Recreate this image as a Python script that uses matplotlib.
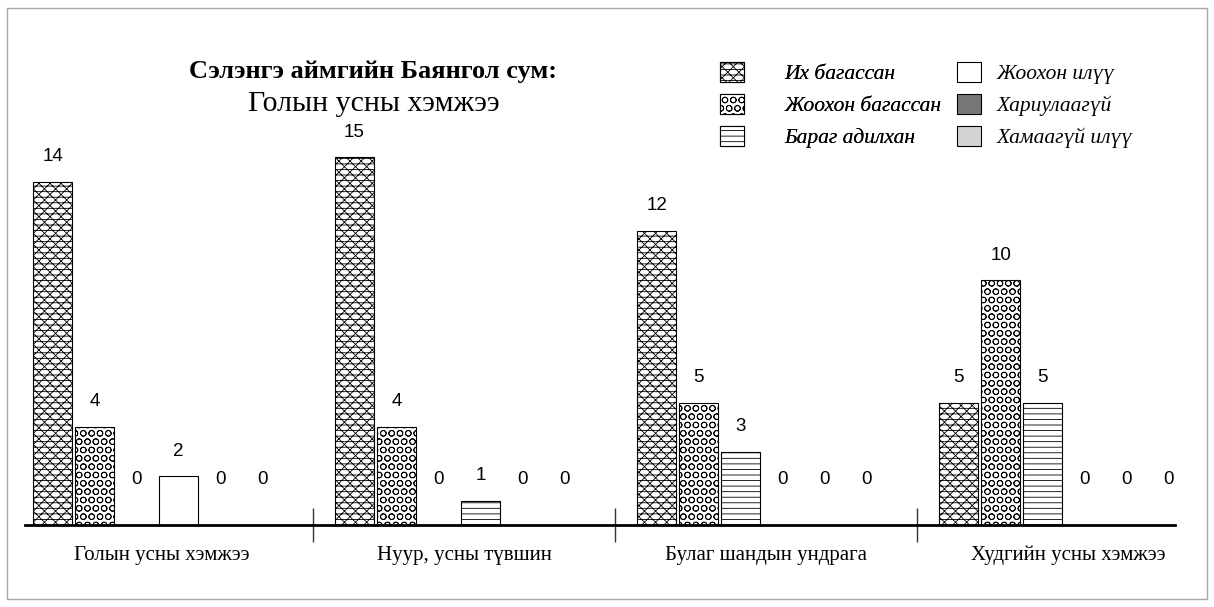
import matplotlib
matplotlib.use("Agg")
import matplotlib.pyplot as plt
from matplotlib.patches import Rectangle
import numpy as np

# ── data ──────────────────────────────────────────────────────────────────────
categories = ['Голын усны хэмжээ', 'Нуур, усны түвшин',
              'Булаг шандын ундрага', 'Худгийн усны хэмжээ']
series_names = ['Их багассан', 'Жоохон багассан', 'Бараг адилхан',
                'Жоохон илүү', 'Хариулаагүй', 'Хамаагүй илүү']
ih_bagassan = [14, 15, 12, 5]
joohon_bagassan = [4, 4, 5, 10]
barag_adilhan = [0, 0, 3, 5]
joohon_iluu = [2, 1, 0, 0]
hariulaagui = [0, 0, 0, 0]
hamaagui_iluu = [0, 0, 0, 0]
values = [ih_bagassan, joohon_bagassan, barag_adilhan,
          joohon_iluu, hariulaagui, hamaagui_iluu]

title_line1 = 'Сэлэнгэ аймгийн Баянгол сум:'
title_line2 = 'Голын усны хэмжээ'

# ── styles ────────────────────────────────────────────────────────────────────
faces = ['white', 'white', 'white', 'white', '#777777', '#d4d4d4']
hatches = ['xxx---', 'OO', '---', '', '', '']

plt.rcParams['hatch.linewidth'] = 0.6
W, H = 1214, 607
fig = plt.figure(figsize=(W / 100, H / 100), dpi=100)
fig.patch.set_facecolor('white')

# outer grey frame
fig.patches.append(Rectangle((7 / W, 8 / H), 1200 / W, 591 / H, transform=fig.transFigure,
                             fill=False, edgecolor='#a8a8a8', linewidth=1.0))

ax = fig.add_axes([25 / W, 82 / H, 1150 / W, 515 / H])
ax.set_xlim(-0.4536, 3.354)
ax.set_ylim(0, 515 / 24.5)

x = np.arange(len(categories))
pitch, width, shift = 0.139, 0.129, -0.015

for j, (name, vals) in enumerate(zip(series_names, values)):
    pos = x + (j - 2.5) * pitch + shift
    bars = ax.bar(pos, vals, width, color=faces[j], hatch=hatches[j],
                  edgecolor='black', linewidth=0.8, label=name)
    for b, v in zip(bars, vals):
        off = 25 if v else 45
        ax.annotate(str(v), (b.get_x() + b.get_width() / 2, v),
                    xytext=(0, off * 0.72), textcoords='offset points',
                    ha='center', va='center', fontsize=13.5,
                    family='Liberation Sans')

# in the source picture the "1" bar of the second group carries the wavy fill
ax.patches[3 * 4 + 1].set_hatch('---')

for s in ['left', 'right', 'top']:
    ax.spines[s].set_visible(False)
ax.spines['bottom'].set_linewidth(2.0)
ax.set_yticks([])

ax.set_xticks([0.5, 1.5, 2.5])
ax.set_xticklabels([])
ax.tick_params(axis='x', which='major', direction='inout', length=24,
               width=1, color='#333333')
ax.set_xticks(x, minor=True)
ax.set_xticklabels(categories, minor=True, fontsize=15, family='Liberation Serif')
ax.tick_params(axis='x', which='minor', length=0, pad=15)

# title
fig.text(373 / W, 1 - 78 / H, title_line1, ha='center', va='baseline',
         fontsize=19, fontweight='bold', family='Liberation Serif')
fig.text(374 / W, 1 - 111 / H, title_line2, ha='center', va='baseline',
         fontsize=21.5, family='Liberation Serif')

# legend in two columns
handles, labels = ax.get_legend_handles_labels()
font = {'family': 'Liberation Serif', 'style': 'italic', 'size': 15.5}
leg1 = fig.legend(handles[:3], labels[:3], loc='upper left',
                  bbox_to_anchor=(720 / W, 1 - 62 / H), frameon=False, prop=font,
                  handlelength=1.1, handleheight=1.05, handletextpad=1.9,
                  labelspacing=0.45, borderpad=0, borderaxespad=0)
leg2 = fig.legend(handles[3:], labels[3:], loc='upper left',
                  bbox_to_anchor=(957 / W, 1 - 62 / H), frameon=False, prop=font,
                  handlelength=1.1, handleheight=1.05, handletextpad=0.75,
                  labelspacing=0.45, borderpad=0, borderaxespad=0)
fig.add_artist(leg1)

fig.savefig('out.png', dpi=100)
